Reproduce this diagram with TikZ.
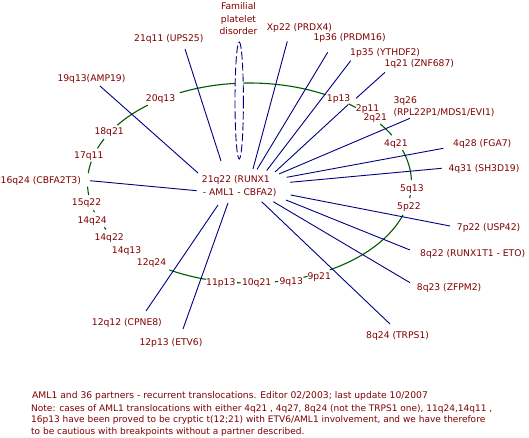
\documentclass[tikz,border=0pt]{standalone}
\usepackage{fontspec}
\setmainfont{DejaVu Sans}
\definecolor{txtred}{RGB}{128,0,0}
\definecolor{lnavy}{RGB}{0,0,128}
\definecolor{bandgreen}{RGB}{0,90,0}
\begin{document}
\begin{tikzpicture}[x=1pt,y=-1pt,
  lbl/.style={anchor=base west, inner sep=0pt, text=txtred, font=\fontsize{9.2}{11}\selectfont},
  link/.style={draw=lnavy, line width=0.9pt},
  band/.style={draw=bandgreen, line width=1.1pt},
  fpd/.style={draw=lnavy, line width=0.9pt, dash pattern=on 8pt off 3pt, fill=white}
]
\useasboundingbox[fill=white] (0,0) rectangle (529,438);

% chromosome band ellipse (pieces)
\foreach \a/\b in {62/115.5, 128.9/144.7, 153.9/159.8, 167.7/174.4, 182.1/186.9,
  195.7/197, 206.3/207.7, 240.4/254.5, 265.6/266.9, 279/280.2, 289.5/291,
  299.7/341.4, 351.4/353.1, 1.7/19.2, 28.5/36.2, 49/52.3}
  \draw[band] plot[domain=\a:\b, samples=25, smooth] ({249.5+162*cos(\x)},{183-100*sin(\x)});

% familial platelet disorder
\draw[fpd] (239.2,100.5) ellipse [x radius=4.2, y radius=58.5];
\node[lbl, anchor=north, align=center, font=\fontsize{9.2}{12.2}\selectfont] (lfpd) at (238.5,2.8) {Familial\\platelet\\disorder};

% end points of the links
\coordinate (o19q13) at (100,86);     \coordinate (i19q13) at (198,173);
\coordinate (o21q11) at (185,49);     \coordinate (i21q11) at (221,161);
\coordinate (oXp22)  at (287.3,41.3); \coordinate (iXp22)  at (253,169);
\coordinate (o1p36)  at (327.7,52.3); \coordinate (i1p36)  at (257,169.5);
\coordinate (o1p35)  at (350.7,60.7); \coordinate (i1p35)  at (266.7,170.5);
\coordinate (o1q21)  at (385,72.3);   \coordinate (g1q21a) at (356,98.4);
\coordinate (g1q21b) at (348.3,104.5);\coordinate (i1q21)  at (275,172);
\coordinate (o3q26)  at (410,118.3);  \coordinate (i3q26)  at (279,174);
\coordinate (o4q28)  at (443.3,148.3);\coordinate (i4q28)  at (286.7,177.3);
\coordinate (o4q31)  at (441.7,168.3);\coordinate (i4q31)  at (290,182.3);
\coordinate (o7p22)  at (450,226);    \coordinate (i7p22)  at (290.7,195);
\coordinate (o8q22)  at (410,250);    \coordinate (i8q22)  at (286,200);
\coordinate (o8q23)  at (410,282.7);  \coordinate (i8q23)  at (273.3,201.7);
\coordinate (o8q24)  at (390,324);    \coordinate (i8q24)  at (261.7,201.7);
\coordinate (o12p13) at (183,329);    \coordinate (i12p13) at (228,203);
\coordinate (o12q12) at (146,311);    \coordinate (i12q12) at (218,205);
\coordinate (o16q24) at (90,180.7);   \coordinate (i16q24) at (196.7,190.7);

\draw[link] (o19q13) -- (i19q13);
\draw[link] (o21q11) -- (i21q11);
\draw[link] (oXp22) -- (iXp22);
\draw[link] (o1p36) -- (i1p36);
\draw[link] (o1p35) -- (i1p35);
\draw[link] (o1q21) -- (g1q21a);
\draw[link] (g1q21b) -- (i1q21);
\draw[link] (o3q26) -- (i3q26);
\draw[link] (o4q28) -- (i4q28);
\draw[link] (o4q31) -- (i4q31);
\draw[link] (o7p22) -- (i7p22);
\draw[link] (o8q22) -- (i8q22);
\draw[link] (o8q23) -- (i8q23);
\draw[link] (o8q24) -- (i8q24);
\draw[link] (o12p13) -- (i12p13);
\draw[link] (o12q12) -- (i12q12);
\draw[link] (o16q24) -- (i16q24);

% centre
\node[lbl] (c1) at (201.7,182.5) {21q22 (RUNX1};
\node[lbl] (c2) at (202.7,195.2) {- AML1 - CBFA2)};

% labels
\node[lbl] (l21q11) at (134,41.2) {21q11 (UPS25)};
\node[lbl] (l19q13) at (57.3,81.2) {19q13(AMP19)};
\node[lbl] (l20q13) at (145.7,101.2) {20q13};
\node[lbl] (l18q21) at (94.3,134.5) {18q21};
\node[lbl] (l17q11) at (74,158.5) {17q11};
\node[lbl] (l16q24) at (0.5,183.5) {16q24 (CBFA2T3)};
\node[lbl] (l15q22) at (71.7,205.8) {15q22};
\node[lbl] (l14q24) at (77.3,223.5) {14q24};
\node[lbl] (l14q22) at (94.3,240.2) {14q22};
\node[lbl] (l14q13) at (111.7,253.5) {14q13};
\node[lbl] (l12q24) at (136.7,265.2) {12q24};
\node[lbl] (l11p13) at (206,285.2) {11p13};
\node[lbl] (l10q21) at (241.8,285.2) {10q21};
\node[lbl] (l9q13) at (279.3,284.2) {9q13};
\node[lbl] (l9p21) at (307.3,279.5) {9p21};
\node[lbl] (l12q12) at (91.7,325.2) {12q12 (CPNE8)};
\node[lbl] (l12p13) at (139.3,345.2) {12p13 (ETV6)};
\node[lbl] (l8q24) at (366,338.5) {8q24 (TRPS1)};
\node[lbl] (l8q23) at (416.7,290.2) {8q23 (ZFPM2)};
\node[lbl] (l8q22) at (420,256.8) {8q22 (RUNX1T1 - ETO)};
\node[lbl] (l7p22) at (456.7,230.8) {7p22 (USP42)};
\node[lbl] (l5p22) at (397,209.2) {5p22};
\node[lbl] (l5q13) at (400,191.8) {5q13};
\node[lbl] (l4q31) at (448.3,171.8) {4q31 (SH3D19)};
\node[lbl] (l4q28) at (453,146.2) {4q28 (FGA7)};
\node[lbl] (l4q21) at (384,146.2) {4q21};
\node[lbl] (l3q26) at (393.3,103.5) {3q26};
\node[lbl] (l3q26b) at (393.3,115.8) {(RPL22P1/MDS1/EVI1)};
\node[lbl] (l2q21) at (363.3,120.8) {2q21};
\node[lbl] (l2p11) at (355.7,111.8) {2p11};
\node[lbl] (l1p13) at (326.7,101.2) {1p13};
\node[lbl] (l1q21) at (384.3,66.8) {1q21 (ZNF687)};
\node[lbl] (l1p35) at (350,55.2) {1p35 (YTHDF2)};
\node[lbl] (l1p36) at (313.3,40.2) {1p36 (PRDM16)};
\node[lbl] (lXp22) at (266.7,30.2) {Xp22 (PRDX4)};

% note
\node[lbl] (note1) at (32,398) {AML1 and 36 partners - recurrent translocations. Editor 02/2003; last update 10/2007};
\node[lbl, anchor=north west, align=left, font=\fontsize{9.0}{11.4}\selectfont] (note2) at (31,404.5)
  {Note: cases of AML1 translocations with either 4q21 , 4q27, 8q24 (not the TRPS1 one), 11q24,14q11 ,\\
   16p13 have been proved to be cryptic t(12;21) with ETV6/AML1 involvement, and we have therefore\\
   to be cautious with breakpoints without a partner described.};
\end{tikzpicture}
\end{document}
